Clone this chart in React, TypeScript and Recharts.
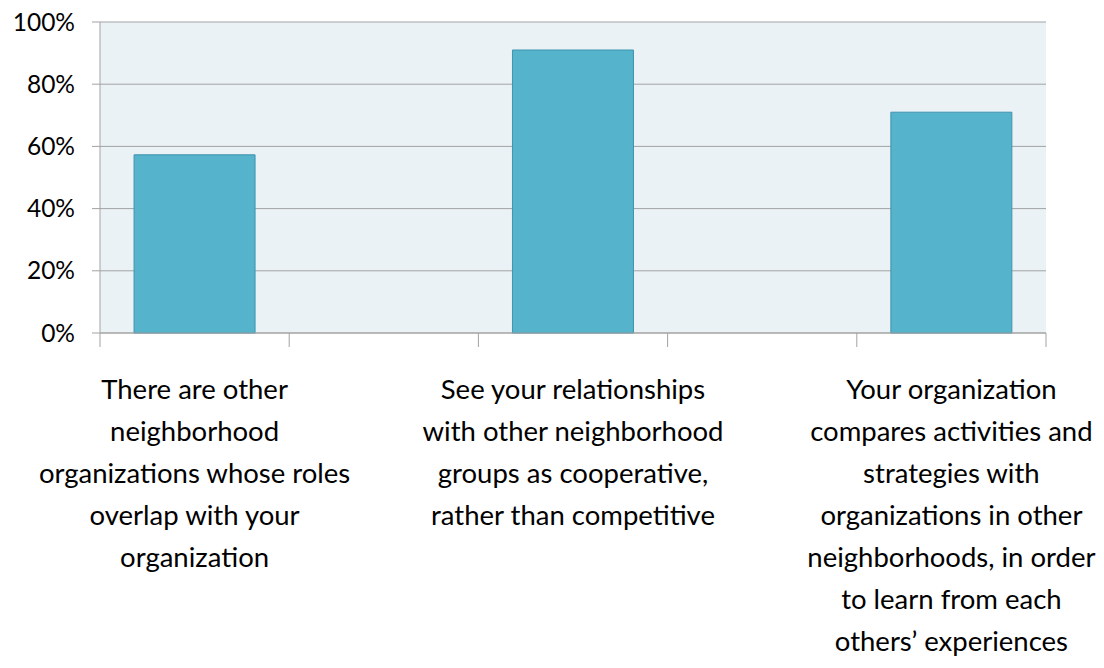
import React from "react"
import { BarChart, Bar, XAxis, YAxis, CartesianGrid } from "recharts"

// five slots: the blank ones keep the gaps between the three bars
const categories = ["roles", "", "cooperative", "", "compare"]
const shares = [57.3, null, 91, null, 71]
const yTicks = [0, 20, 40, 60, 80, 100]

const labelLines: Record<string, string[]> = {
  roles: [
    "There are other",
    "neighborhood",
    "organizations whose roles",
    "overlap with your",
    "organization",
  ],
  cooperative: [
    "See your relationships",
    "with other neighborhood",
    "groups as cooperative,",
    "rather than competitive",
  ],
  compare: [
    "Your organization",
    "compares activities and",
    "strategies with",
    "organizations in other",
    "neighborhoods, in order",
    "to learn from each",
    "others\u2019 experiences",
  ],
}

const data = categories.map((c, i) => ({ cat: c || `gap${i}`, value: shares[i] }))

const FONT = "Lato, 'Open Sans', sans-serif"
const GRID = "#a3a3a3"

function CategoryTick(props: any) {
  const { x, y, payload, index, visibleTicksCount } = props
  const half = payload?.offset ?? 94.6
  const lines = labelLines[payload?.value] || []
  const isLast = index === (visibleTicksCount ?? data.length) - 1
  return (
    <g>
      <line x1={x - half} x2={x - half} y1={y} y2={y + 14} stroke={GRID} />
      {isLast && <line x1={x + half} x2={x + half} y1={y} y2={y + 14} stroke={GRID} />}
      {lines.length > 0 && (
        <text x={x} y={y + 66} textAnchor="middle" fill="#000" fontSize={27.5} fontFamily={FONT}>
          {lines.map((l, i) => (
            <tspan key={i} x={x} dy={i === 0 ? 0 : 42}>
              {l}
            </tspan>
          ))}
        </text>
      )}
    </g>
  )
}

export default function App() {
  return (
    <div style={{ position: "absolute", left: 0, top: 0, background: "#fff" }}>
      <BarChart
        width={1104}
        height={668}
        data={data}
        margin={{ top: 22, right: 58, left: 0, bottom: 0 }}
        barCategoryGap="18%"
      >
        <CartesianGrid vertical={false} stroke={GRID} fill="#eaf2f6" fillOpacity={1} />
        <XAxis
          dataKey="cat"
          interval={0}
          height={335}
          tickSize={0}
          tickMargin={0}
          axisLine={{ stroke: GRID }}
          tick={<CategoryTick />}
        />
        <YAxis
          width={100}
          domain={[0, 100]}
          ticks={yTicks}
          interval={0}
          tickFormatter={(v: number) => `${v}%`}
          tickSize={8}
          tickMargin={17}
          axisLine={{ stroke: GRID }}
          tickLine={{ stroke: GRID }}
          tick={{ fill: "#000", fontSize: 24.5, fontFamily: FONT }}
        />
        <Bar dataKey="value" fill="#55b3cc" stroke="#3f94ad" strokeWidth={1} isAnimationActive={false} />
      </BarChart>
    </div>
  )
}
